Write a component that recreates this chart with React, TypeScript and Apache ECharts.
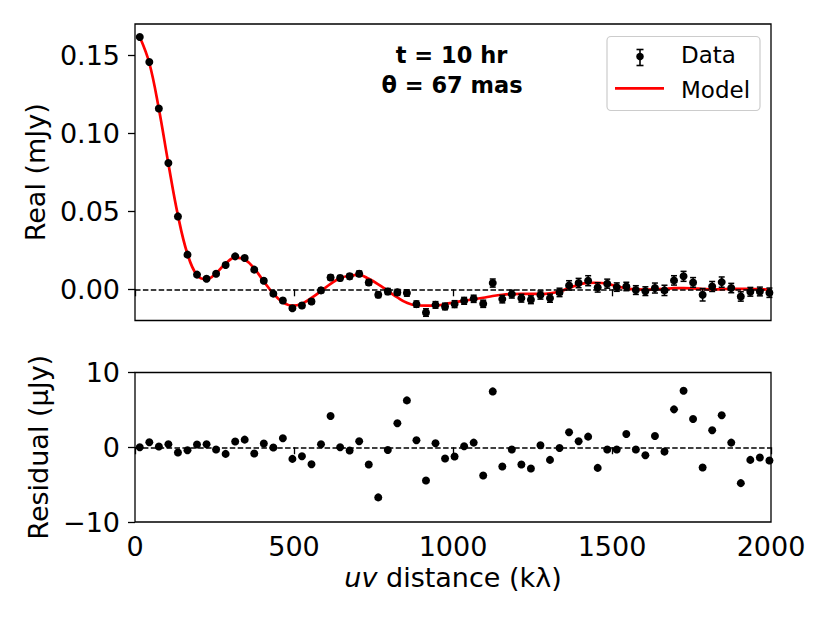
import React, { useEffect, useRef } from "react";
import * as echarts from "echarts";

const uvDist = [
  15, 45, 75, 105, 135, 165, 195, 225, 255, 285,
  315, 345, 375, 405, 435, 465, 495, 525, 555, 585,
  615, 645, 675, 705, 735, 765, 795, 825, 855, 885,
  915, 945, 975, 1005, 1035, 1065, 1095, 1125, 1155, 1185,
  1215, 1245, 1275, 1305, 1335, 1365, 1395, 1425, 1455, 1485,
  1515, 1545, 1575, 1605, 1635, 1665, 1695, 1725, 1755, 1785,
  1815, 1845, 1875, 1905, 1935, 1965, 1995,
];

const realData = [
  0.1617, 0.1457, 0.1158, 0.0809, 0.0467, 0.0222, 0.0094, 0.0068, 0.0100, 0.0156,
  0.0211, 0.0201, 0.0126, 0.0055, -0.0028, -0.0072, -0.0121, -0.0104, -0.0078, -0.0007,
  0.0076, 0.0072, 0.0083, 0.0100, 0.0044, -0.0035, -0.0014, -0.0020, -0.0024, -0.0095,
  -0.0149, -0.0100, -0.0110, -0.0095, -0.0074, -0.0061, -0.0093, 0.0040, -0.0063, -0.0031,
  -0.0057, -0.0067, -0.0037, -0.0057, -0.0020, 0.0025, 0.0040, 0.0055, 0.0012, 0.0036,
  0.0014, 0.0018, -0.0005, -0.0012, 0.0008, -0.0007, 0.0057, 0.0083, 0.0044, -0.0035,
  0.0018, 0.0046, 0.0008, -0.0046, -0.0016, -0.0014, -0.0022,
];

const realErr = [
  0.0008, 0.0008, 0.0008, 0.0008, 0.0008, 0.0008, 0.0009, 0.0009, 0.0009, 0.0010,
  0.0010, 0.0011, 0.0011, 0.0012, 0.0012, 0.0013, 0.0013, 0.0014, 0.0014, 0.0015,
  0.0016, 0.0016, 0.0017, 0.0017, 0.0018, 0.0018, 0.0019, 0.0019, 0.0020, 0.0020,
  0.0024, 0.0021, 0.0021, 0.0022, 0.0022, 0.0023, 0.0023, 0.0026, 0.0024, 0.0025,
  0.0025, 0.0025, 0.0026, 0.0026, 0.0027, 0.0030, 0.0030, 0.0032, 0.0030, 0.0029,
  0.0027, 0.0027, 0.0028, 0.0028, 0.0032, 0.0033, 0.0030, 0.0032, 0.0031, 0.0040,
  0.0032, 0.0033, 0.0030, 0.0030, 0.0028, 0.0028, 0.0030,
];

const modelReal = [
  0.1617, 0.1450, 0.1157, 0.0805, 0.0474, 0.0226, 0.0090, 0.0064, 0.0103, 0.0165,
  0.0203, 0.0191, 0.0134, 0.0050, -0.0028, -0.0084, -0.0105, -0.0092, -0.0055, -0.0011,
  0.0034, 0.0072, 0.0087, 0.0092, 0.0067, 0.0032, -0.0010, -0.0052, -0.0087, -0.0104,
  -0.0105, -0.0105, -0.0095, -0.0083, -0.0073, -0.0064, -0.0054, -0.0043, -0.0035, -0.0031,
  -0.0030, -0.0030, -0.0030, -0.0026, -0.0014, 0.0008, 0.0030, 0.0041, 0.0042, 0.0035,
  0.0020, 0.0006, -0.0001, -0.0002, 0.0000, 0.0003, 0.0007, 0.0008, 0.0006, 0.0002,
  -0.0001, 0.0001, 0.0003, 0.0003, 0.0002, 0.0000, -0.0002,
];

const residual = [
  0.0, 0.67, 0.09, 0.4, -0.71, -0.4, 0.36, 0.4, -0.31, -0.89,
  0.76, 1.02, -0.84, 0.49, -0.04, 1.2, -1.56, -1.2, -2.27, 0.4,
  4.18, 0.0, -0.44, 0.8, -2.31, -6.71, -0.36, 3.2, 6.27, 0.93,
  -4.44, 0.53, -1.51, -1.24, 0.13, 0.62, -3.78, 7.47, -2.58, -0.31,
  -2.31, -2.84, 0.27, -1.69, -0.09, 2.0, 0.8, 1.42, -2.76, -0.31,
  -0.31, 1.78, -0.31, -1.07, 1.51, -0.58, 5.07, 7.56, 3.78, -2.71,
  2.27, 4.27, 0.62, -4.8, -1.69, -1.38, -1.78,
];

const realTicks = [0, 0.05, 0.1, 0.15];
const xTicks = [0, 500, 1000, 1500, 2000];

const FONT = "DejaVu Sans";

export default function App() {
  const ref = useRef<HTMLDivElement>(null);

  useEffect(() => {
    if (!ref.current) return;
    const chart = echarts.init(ref.current, undefined, { renderer: "svg" });

    const errData = uvDist.map((u, i) => [u, realData[i] - realErr[i], realData[i] + realErr[i]]);
    const dataPts = uvDist.map((u, i) => [u, realData[i]]);
    const modelPts = uvDist.map((u, i) => [u, modelReal[i]]);
    const residPts = uvDist.map((u, i) => [u, residual[i]]);

    const zeroLine = {
      silent: true,
      symbol: "none",
      label: { show: false },
      emphasis: { disabled: true },
      lineStyle: { color: "#000", type: [5.5, 2.4], width: 1.6, opacity: 1 },
      data: [{ yAxis: 0 }],
      animation: false,
    };

    const tickStyle = { show: true, inside: false, length: 7, lineStyle: { color: "#000", width: 1.3 } };

    const option: any = {
      animation: false,
      backgroundColor: "#fff",
      textStyle: { fontFamily: FONT },
      grid: [
        { left: 135, top: 24, width: 636, height: 296.5, show: true, borderColor: "#000", borderWidth: 1.3, backgroundColor: "transparent" },
        { left: 135, top: 372.5, width: 636, height: 149.5, show: true, borderColor: "#000", borderWidth: 1.3, backgroundColor: "transparent" },
      ],
      xAxis: [
        {
          gridIndex: 0, type: "value", min: 0, max: 2000, interval: 500,
          axisLine: { show: false }, axisTick: tickStyle, axisLabel: { show: false }, splitLine: { show: false },
        },
        {
          gridIndex: 1, type: "value", min: 0, max: 2000, interval: 500,
          axisLine: { show: false }, axisTick: tickStyle, splitLine: { show: false },
          axisLabel: {
            show: true, margin: 11, color: "#000", fontSize: 27, fontFamily: FONT,
            customValues: xTicks,
            formatter: (v: number) => String(v),
          },
          name: "{i|uv} distance (kλ)",
          nameLocation: "middle",
          nameGap: 42,
          nameTextStyle: {
            color: "#000", fontSize: 27, fontFamily: FONT,
            rich: { i: { fontStyle: "italic", fontSize: 27, fontFamily: FONT, color: "#000" } },
          },
        },
      ],
      yAxis: [
        {
          gridIndex: 0, type: "value", min: -0.02, max: 0.17,
          axisLine: { show: false }, splitLine: { show: false },
          axisTick: { ...tickStyle, customValues: realTicks },
          axisLabel: {
            show: true, margin: 15, color: "#000", fontSize: 27, fontFamily: FONT,
            customValues: realTicks,
            formatter: (v: number) => v.toFixed(2),
          },
          name: "Real (mJy)",
          nameLocation: "middle",
          nameGap: 81,
          nameTextStyle: { color: "#000", fontSize: 27, fontFamily: FONT },
        },
        {
          gridIndex: 1, type: "value", min: -10, max: 10, interval: 10,
          axisLine: { show: false }, splitLine: { show: false },
          axisTick: tickStyle,
          axisLabel: {
            show: true, margin: 15, color: "#000", fontSize: 27, fontFamily: FONT,
            formatter: (v: number) => (v < 0 ? "\u2212" + Math.abs(v) : String(v)),
          },
          name: "Residual (µJy)",
          nameLocation: "middle",
          nameGap: 81,
          nameTextStyle: { color: "#000", fontSize: 27, fontFamily: FONT },
        },
      ],
      series: [
        {
          name: "Model",
          type: "line",
          xAxisIndex: 0, yAxisIndex: 0,
          data: modelPts,
          showSymbol: false,
          symbol: "none",
          smooth: 0.4,
          lineStyle: { color: "#ff0000", width: 2.7 },
          z: 2,
          markLine: zeroLine,
        },
        {
          name: "DataErr",
          type: "custom",
          xAxisIndex: 0, yAxisIndex: 0,
          data: errData,
          encode: { x: 0, y: [1, 2] },
          z: 3,
          renderItem: (params: any, api: any) => {
            const x = api.value(0);
            const lo = api.coord([x, api.value(1)]);
            const hi = api.coord([x, api.value(2)]);
            const w = 3;
            const st = { stroke: "#000", lineWidth: 1.5 };
            return {
              type: "group",
              children: [
                { type: "line", shape: { x1: lo[0], y1: lo[1], x2: hi[0], y2: hi[1] }, style: st },
                { type: "line", shape: { x1: lo[0] - w, y1: lo[1], x2: lo[0] + w, y2: lo[1] }, style: st },
                { type: "line", shape: { x1: hi[0] - w, y1: hi[1], x2: hi[0] + w, y2: hi[1] }, style: st },
              ],
            };
          },
        },
        {
          name: "Data",
          type: "scatter",
          xAxisIndex: 0, yAxisIndex: 0,
          data: dataPts,
          symbolSize: 8,
          itemStyle: { color: "#000", opacity: 1 },
          z: 4,
        },
        {
          name: "Residual",
          type: "scatter",
          xAxisIndex: 1, yAxisIndex: 1,
          data: residPts,
          symbolSize: 8,
          itemStyle: { color: "#000", opacity: 1 },
          z: 4,
          markLine: zeroLine,
        },
      ],
      graphic: [
        {
          type: "text", x: 451.5, y: 55,
          style: { text: "t = 10 hr", fontFamily: FONT, fontWeight: "bold", fontSize: 22.5, fill: "#000", align: "center", verticalAlign: "middle" },
          z: 10,
        },
        {
          type: "text", x: 452, y: 85,
          style: { text: "θ = 67 mas", fontFamily: FONT, fontWeight: "bold", fontSize: 22.5, fill: "#000", align: "center", verticalAlign: "middle" },
          z: 10,
        },
        {
          type: "group",
          z: 10,
          children: [
            { type: "rect", shape: { x: 607, y: 36.5, width: 153, height: 74, r: 4 }, style: { fill: "rgba(255,255,255,0.8)", stroke: "#cccccc", lineWidth: 1.2 } },
            { type: "line", shape: { x1: 640, y1: 49.5, x2: 640, y2: 65.5 }, style: { stroke: "#000", lineWidth: 1.6 } },
            { type: "line", shape: { x1: 636.5, y1: 49.5, x2: 643.5, y2: 49.5 }, style: { stroke: "#000", lineWidth: 1.6 } },
            { type: "line", shape: { x1: 636.5, y1: 65.5, x2: 643.5, y2: 65.5 }, style: { stroke: "#000", lineWidth: 1.6 } },
            { type: "circle", shape: { cx: 640, cy: 56.5, r: 3.8 }, style: { fill: "#000" } },
            { type: "text", x: 681, y: 54.5, style: { text: "Data", fontFamily: FONT, fontSize: 23, fill: "#000", align: "left", verticalAlign: "middle" } },
            { type: "line", shape: { x1: 615, y1: 88.3, x2: 664, y2: 88.3 }, style: { stroke: "#ff0000", lineWidth: 2.7 } },
            { type: "text", x: 681, y: 89.5, style: { text: "Model", fontFamily: FONT, fontSize: 23, fill: "#000", align: "left", verticalAlign: "middle" } },
          ],
        },
      ],
    };

    chart.setOption(option);
    return () => chart.dispose();
  }, []);

  return (
    <div
      ref={ref}
      style={{ position: "fixed", left: 0, top: 0, width: 830, height: 623, background: "#fff" }}
    />
  );
}
